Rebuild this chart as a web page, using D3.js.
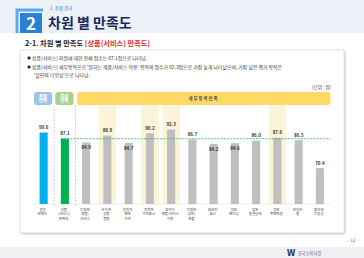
<!DOCTYPE html>
<html>
<head>
<meta charset="utf-8">
<script src="https://cdn.jsdelivr.net/npm/d3@7"></script>
<style>
  html, body { margin: 0; padding: 0; background: #fff; }
  svg { display: block; font-family: "Noto Sans CJK KR", "Noto Sans", sans-serif; }
</style>
</head>
<body>
<svg id="chart" width="364" height="258"></svg>
<script>
// 차원 별 만족도 - 상품(서비스)
const categories = [
  '종합\n만족도', '상품\n(서비스)\n만족도', '다양한\n제품/\n서비스', '우수한\n상품\n품질',
  '합리적\n판매\n가격', '정확한\n가격표시', '원하는\n제품/서비스\n이용', '적절한\n교환/\n환불',
  '원산지\n표시', '점포\n편리성', '점포\n청결상태', '점포\n주변환경', '포장지\n질', '할인의\n다양성'
];
const values = [90.6, 87.1, 84.9, 88.9, 84.7, 90.2, 92.3, 86.7, 84.2, 84.6, 86.0, 87.6, 86.3, 70.4];
const kinds = ['total', 'dimension', 'detail', 'detail', 'detail', 'detail', 'detail',
  'detail', 'detail', 'detail', 'detail', 'detail', 'detail', 'detail'];
const highlighted = ['우수한\n상품\n품질', '정확한\n가격표시', '원하는\n제품/서비스\n이용', '점포\n주변환경'];
const average = 87.1;
const headers = [
  { label: '종합\n만족', kind: 'total', first: 0, last: 0 },
  { label: '차원\n만족', kind: 'dimension', first: 1, last: 1 },
  { label: '세 부 항 목 만 족', kind: 'detail', first: 2, last: 13 }
];
const bullets = [
  '상품(서비스) 차원에 대한 전체 점수는 87.1점으로 나타남.',
  '상품(서비스) 세부항목으로 \u2018원하는 제품/서비스 이용\u2019 항목의 점수가 92.3점으로 가장 높게 나타났으며, 가장 낮은 평가 항목은',
  '\u2018할인의 다양성\u2019으로 나타남.'
];

const barColor = { total: '#00b0f0', dimension: '#00b050', detail: '#bfbfbf' };
const pillColor = { total: '#9dc3e6', dimension: '#a9d18e', detail: '#ffd966' };

let svg = d3.select('#chart');

// header band with diagonal stripes
let defs = svg.append('defs');
let pat = defs.append('pattern')
  .attr('id', 'stripes')
  .attr('width', 3)
  .attr('height', 3)
  .attr('patternUnits', 'userSpaceOnUse')
  .attr('patternTransform', 'rotate(45)');
pat.append('rect').attr('width', 3).attr('height', 3).attr('fill', '#edf3f8');
pat.append('line').attr('x1', 0).attr('y1', 0).attr('x2', 0).attr('y2', 3)
  .attr('stroke', '#e3ecf4').attr('stroke-width', 1.2);

let shadow = defs.append('filter').attr('id', 'shadow')
  .attr('x', '-5%').attr('y', '-5%').attr('width', '110%').attr('height', '110%');
shadow.append('feDropShadow').attr('dx', 1).attr('dy', 1).attr('stdDeviation', 0.8)
  .attr('flood-color', '#999').attr('flood-opacity', 0.5);

svg.append('rect').attr('x', 0).attr('y', 0).attr('width', 364).attr('height', 33)
  .attr('fill', 'url(#stripes)');

// section number box
svg.append('path')
  .attr('d', 'M17,33 L17,10 L43,10')
  .attr('fill', 'none').attr('stroke', '#5aaaf0').attr('stroke-width', 3);
svg.append('rect').attr('x', 20).attr('y', 13).attr('width', 22).attr('height', 20)
  .attr('fill', '#2a7fd6');
svg.append('text').attr('x', 31).attr('y', 29.5)
  .attr('text-anchor', 'middle')
  .attr('font-size', 17).attr('font-weight', 'bold').attr('fill', '#fff')
  .text('2');
svg.append('text').attr('x', 50).attr('y', 10)
  .attr('font-size', 4.5).attr('fill', '#3a86d6')
  .text('2. 종합 결과');
svg.append('text').attr('x', 48).attr('y', 28)
  .attr('font-size', 14).attr('font-weight', 'bold').attr('fill', '#1b2a5c')
  .text('차원 별 만족도');

let sub = svg.append('text').attr('x', 25).attr('y', 45.5)
  .attr('font-size', 7.2).attr('font-weight', 'bold').attr('fill', '#222');
sub.append('tspan').text('2-1. 차원 별 만족도 ');
sub.append('tspan').attr('fill', '#e0312b').text('[상품(서비스) 만족도]');

// panel
svg.append('rect').attr('x', 20).attr('y', 50).attr('width', 324).attr('height', 183)
  .attr('rx', 1.5)
  .attr('fill', '#fff').attr('stroke', '#d0d0d0').attr('stroke-width', 0.6)
  .attr('filter', 'url(#shadow)');

// bullets
let bl = svg.append('g').attr('font-size', 4.9).attr('fill', '#333');
bullets.forEach(function (t, i) {
  let yy = 60 + i * 8.5;
  if (i < 2) {
    bl.append('text').attr('x', 27).attr('y', yy).attr('fill', '#1b2a5c').attr('font-size', 4).text('◆');
  }
  bl.append('text').attr('x', i < 2 ? 32 : 34).attr('y', yy).text(t);
});

svg.append('text').attr('x', 331).attr('y', 89)
  .attr('text-anchor', 'end').attr('font-size', 4.6).attr('fill', '#444')
  .text('(단위 : 점)');

// scales
let x = d3.scaleBand()
  .domain(categories)
  .range([33, 330.5])
  .paddingInner(0.62)
  .paddingOuter(0.31);
let step = x.step();
let cx = (d) => x(d) + x.bandwidth() / 2;

let y = d3.scaleLinear().domain([50, 100]).range([204, 116]);

// header pills
let pill = svg.append('g').selectAll('g')
  .data(headers)
  .enter()
  .append('g');
pill.append('rect')
  .attr('x', (d) => cx(categories[d.first]) - step / 2 + (d.first === d.last ? 1 : 1.5))
  .attr('y', 92)
  .attr('width', (d) => cx(categories[d.last]) - cx(categories[d.first]) + step - (d.first === d.last ? 3 : 1.5))
  .attr('height', 13)
  .attr('rx', 3)
  .attr('fill', (d) => pillColor[d.kind]);
pill.append('text')
  .attr('text-anchor', 'middle')
  .attr('font-size', 4.4)
  .attr('font-weight', 'bold')
  .attr('fill', (d) => d.kind === 'detail' ? '#555' : '#fff')
  .selectAll('tspan')
  .data((d) => d.label.split('\n').map((s, i, a) => ({ s: s, i: i, n: a.length, d: d })))
  .enter()
  .append('tspan')
  .attr('x', (t) => (cx(categories[t.d.first]) + cx(categories[t.d.last])) / 2 - (t.d.first === t.d.last ? 0.5 : 0))
  .attr('y', (t) => 98.5 + 1.6 + (t.i - (t.n - 1) / 2) * 4.6)
  .text((t) => t.s);

// highlight columns
svg.append('g').selectAll('rect')
  .data(highlighted)
  .enter()
  .append('rect')
  .attr('x', (d) => cx(d) - 8.75)
  .attr('y', 105.5)
  .attr('width', 17.5)
  .attr('height', y(50) - 105.5)
  .attr('fill', '#fcf4d9');

// dividers
svg.append('g').selectAll('line')
  .data([categories[0], categories[1]])
  .enter()
  .append('line')
  .attr('x1', (d) => cx(d) + step / 2)
  .attr('x2', (d) => cx(d) + step / 2)
  .attr('y1', 105.5)
  .attr('y2', 206)
  .attr('stroke', '#bdbdbd')
  .attr('stroke-width', 0.7)
  .attr('stroke-dasharray', '2,1.5');

// baseline
svg.append('line')
  .attr('x1', x.range()[0]).attr('x2', x.range()[1])
  .attr('y1', y(50)).attr('y2', y(50))
  .attr('stroke', '#e2e2e2').attr('stroke-width', 0.6);

let rows = categories.map((c, i) => ({ cat: c, value: values[i], kind: kinds[i] }));

svg.append('g').selectAll('rect')
  .data(rows)
  .enter()
  .append('rect')
  .attr('x', (d) => x(d.cat))
  .attr('y', (d) => y(d.value))
  .attr('width', x.bandwidth())
  .attr('height', (d) => y(50) - y(d.value))
  .attr('fill', (d) => barColor[d.kind]);

// average line
svg.append('line')
  .attr('x1', x(categories[1]))
  .attr('x2', x.range()[1])
  .attr('y1', y(average))
  .attr('y2', y(average))
  .attr('stroke', '#2fb56a')
  .attr('stroke-width', 0.8)
  .attr('stroke-dasharray', '2,1.2');

// value labels: moved into the bar when they would sit on the average line
let avgY = y(average);
svg.append('g').selectAll('text')
  .data(rows)
  .enter()
  .append('text')
  .attr('x', (d) => cx(d.cat))
  .attr('y', function (d) {
    let c = y(d.value) - 5;
    return Math.abs(c - avgY) < 2 ? y(d.value) + 6.8 : c + 1.6;
  })
  .attr('text-anchor', 'middle')
  .attr('font-size', 4.5)
  .attr('font-weight', 'bold')
  .attr('fill', '#333')
  .text((d) => d.value.toFixed(1));

// category labels
svg.append('g').selectAll('text')
  .data(categories)
  .enter()
  .append('text')
  .attr('font-size', 3.5)
  .attr('fill', '#444')
  .attr('text-anchor', 'middle')
  .selectAll('tspan')
  .data((d) => d.split('\n').map((s, i) => ({ s: s, i: i, c: d })))
  .enter()
  .append('tspan')
  .attr('x', (t) => cx(t.c) - 1)
  .attr('y', (t) => 211 + t.i * 4.3)
  .text((t) => t.s);

// footer
svg.append('text').attr('x', 358).attr('y', 242)
  .attr('text-anchor', 'end').attr('font-size', 5).attr('font-style', 'italic').attr('fill', '#777')
  .text('- 12 -');
svg.append('rect').attr('x', 0).attr('y', 247).attr('width', 364).attr('height', 11).attr('fill', '#eef0f3');
svg.append('text').attr('x', 287).attr('y', 256)
  .attr('font-size', 9).attr('font-weight', 'bold').attr('fill', '#1b2a5c')
  .text('W');
svg.append('text').attr('x', 298).attr('y', 254.5)
  .attr('font-size', 4.2).attr('fill', '#667')
  .text('한국소비자원');
</script>
</body>
</html>
